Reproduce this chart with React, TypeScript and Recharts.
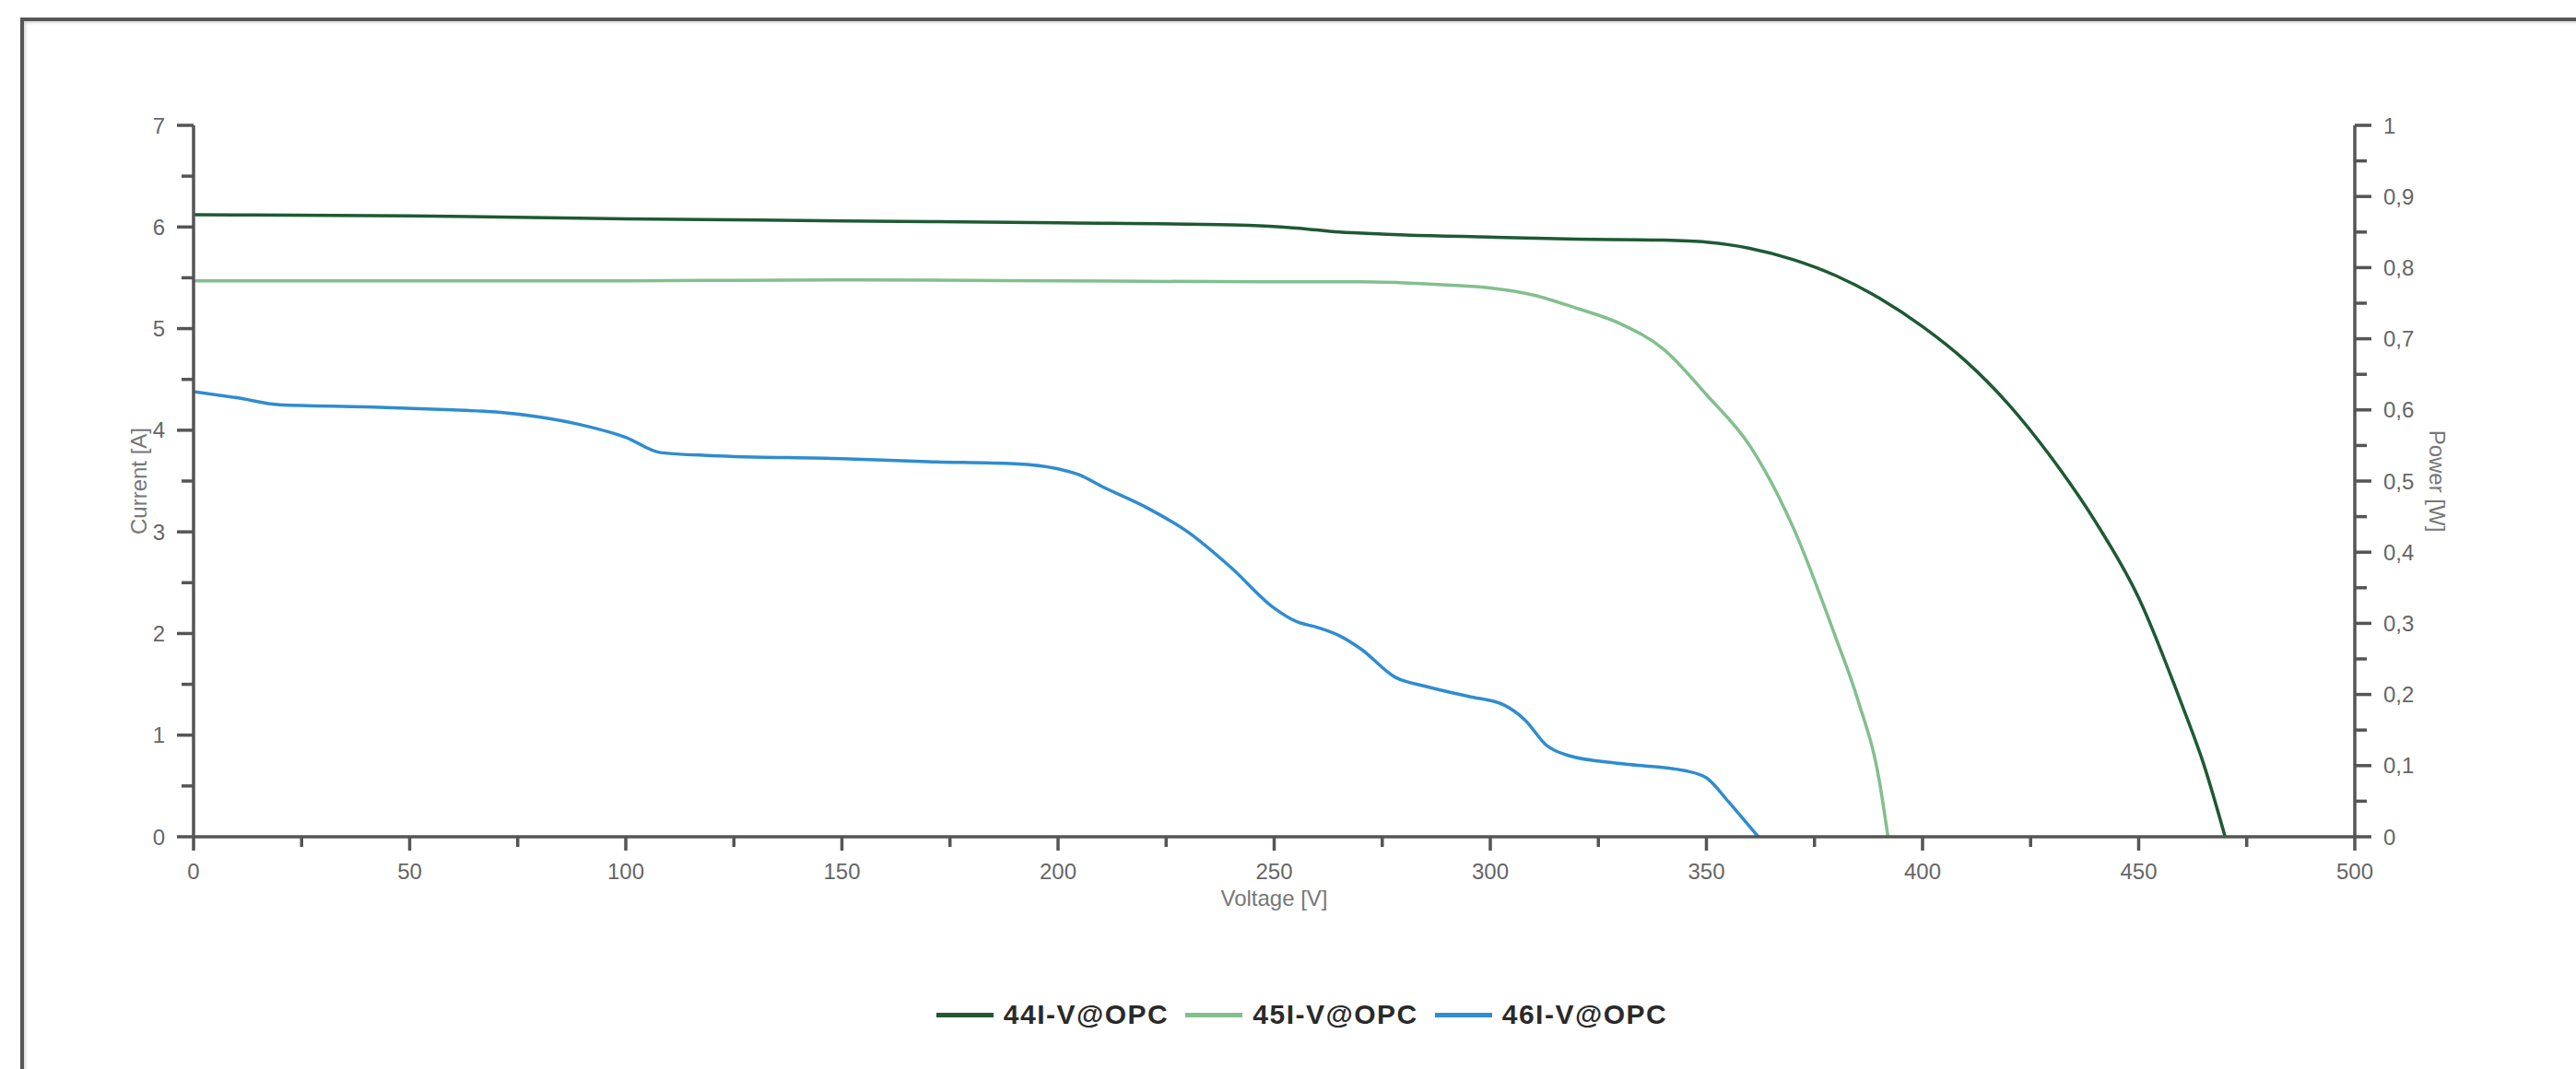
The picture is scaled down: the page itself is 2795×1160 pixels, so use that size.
import React from "react";
import { LineChart, Line, XAxis, YAxis, Legend } from "recharts";

// voltage [V] / current [A] samples
const v44 = [0, 50, 100, 150, 200, 240, 255, 265, 275, 300, 320, 340, 350, 360, 370, 380, 390, 400, 410, 420, 430, 440, 450, 460, 465, 470];
const i44 = [6.12, 6.11, 6.08, 6.06, 6.04, 6.02, 5.99, 5.95, 5.93, 5.9, 5.88, 5.87, 5.85, 5.79, 5.68, 5.52, 5.3, 5.02, 4.68, 4.25, 3.72, 3.1, 2.35, 1.3, 0.72, 0];

const v45 = [0, 50, 100, 150, 200, 250, 270, 280, 290, 300, 310, 320, 330, 340, 350, 360, 370, 380, 385, 390, 392];
const i45 = [5.47, 5.47, 5.47, 5.48, 5.47, 5.46, 5.46, 5.45, 5.43, 5.4, 5.33, 5.2, 5.05, 4.8, 4.35, 3.85, 3.05, 1.95, 1.35, 0.55, 0];

const v46 = [0, 10, 20, 40, 60, 70, 80, 90, 100, 108, 120, 150, 170, 190, 200, 205, 210, 220, 230, 240, 250, 255, 260, 265, 270, 278, 285, 295, 303, 308, 313, 318, 330, 345, 350, 355, 360, 362];
const i46 = [4.38, 4.32, 4.25, 4.23, 4.2, 4.18, 4.13, 4.05, 3.93, 3.78, 3.75, 3.72, 3.69, 3.67, 3.62, 3.56, 3.45, 3.25, 3.0, 2.65, 2.25, 2.12, 2.06, 1.98, 1.85, 1.57, 1.48, 1.38, 1.3, 1.15, 0.9, 0.8, 0.72, 0.65, 0.58, 0.35, 0.1, 0];

const xTicks = [0, 25, 50, 75, 100, 125, 150, 175, 200, 225, 250, 275, 300, 325, 350, 375, 400, 425, 450, 475, 500];
const currentTicks = [0, 0.5, 1, 1.5, 2, 2.5, 3, 3.5, 4, 4.5, 5, 5.5, 6, 6.5, 7];
const powerTicks = [0, 0.05, 0.1, 0.15, 0.2, 0.25, 0.3, 0.35, 0.4, 0.45, 0.5, 0.55, 0.6, 0.65, 0.7, 0.75, 0.8, 0.85, 0.9, 0.95, 1];

const toPoints = (vs: number[], is: number[]) => vs.map((v, k) => ({ v, i: is[k] }));

const series = [
  { name: "44I-V@OPC", color: "#1d5a33", data: toPoints(v44, i44) },
  { name: "45I-V@OPC", color: "#82bf8e", data: toPoints(v45, i45) },
  { name: "46I-V@OPC", color: "#2f8cd0", data: toPoints(v46, i46) },
];

const AXIS = "#555";
const TEXT = "#666";
const FONT = "'Liberation Sans', Arial, sans-serif";

function XTick({ x, y, payload }: any) {
  const major = payload.value % 50 === 0;
  return (
    <g>
      <line x1={x} x2={x} y1={y} y2={y + (major ? 15 : 11)} stroke={AXIS} strokeWidth={3.5} />
      {major && (
        <text x={x} y={y + 37} dy="0.36em" textAnchor="middle" fill={TEXT} fontSize={24} fontFamily={FONT}>
          {payload.value}
        </text>
      )}
    </g>
  );
}

function LeftTick({ x, y, payload }: any) {
  const major = Number.isInteger(payload.value);
  return (
    <g>
      <line x1={x - (major ? 18 : 13)} x2={x} y1={y} y2={y} stroke={AXIS} strokeWidth={3.5} />
      {major && (
        <text x={x - 31} y={y} dy="0.36em" textAnchor="end" fill={TEXT} fontSize={24} fontFamily={FONT}>
          {payload.value}
        </text>
      )}
    </g>
  );
}

function RightTick({ x, y, payload }: any) {
  const major = Math.round(payload.value * 100) % 10 === 0;
  const label = String(Math.round(payload.value * 10) / 10).replace(".", ",");
  return (
    <g>
      <line x1={x} x2={x + (major ? 18 : 13)} y1={y} y2={y} stroke={AXIS} strokeWidth={3.5} />
      {major && (
        <text x={x + 31} y={y} dy="0.36em" textAnchor="start" fill={TEXT} fontSize={24} fontFamily={FONT}>
          {label}
        </text>
      )}
    </g>
  );
}

function LegendRow() {
  return (
    <div
      style={{
        height: 40,
        display: "flex",
        justifyContent: "center",
        alignItems: "center",
        gap: 18,
        fontFamily: FONT,
        fontSize: 30,
        fontWeight: 700,
        letterSpacing: 1.5,
        color: "#2a2a2a",
      }}
    >
      {series.map((s) => (
        <div key={s.name} style={{ display: "flex", alignItems: "center" }}>
          <span style={{ width: 62, height: 5, background: s.color, marginRight: 11, display: "inline-block" }} />
          <span>{s.name}</span>
        </div>
      ))}
    </div>
  );
}

export default function App() {
  return (
    <div style={{ position: "absolute", left: 0, top: 0, width: 2795, height: 1160, background: "#fff", overflow: "hidden" }}>
      <div
        style={{
          position: "absolute",
          left: 22,
          top: 19,
          width: 3000,
          height: 2000,
          borderTop: "4px solid #575757",
          borderLeft: "4px solid #575757",
          boxShadow: "inset 2px 2px 3px rgba(0,0,0,0.15)",
        }}
      />
      <div style={{ position: "absolute", left: 0, top: 0 }}>
        <LineChart width={2795} height={1160} margin={{ top: 136, right: 60, left: 90, bottom: 39 }}>
          <XAxis
            type="number"
            dataKey="v"
            domain={[0, 500]}
            ticks={xTicks}
            interval={0}
            height={173}
            tickSize={0}
            tickMargin={0}
            tickLine={false}
            tick={<XTick />}
            axisLine={{ stroke: AXIS, strokeWidth: 3.5 }}
            allowDataOverflow
            label={{ value: "Voltage [V]", position: "insideTop", offset: 58, fill: "#777", fontSize: 24, fontFamily: FONT }}
          />
          <YAxis
            yAxisId="left"
            type="number"
            domain={[0, 7]}
            ticks={currentTicks}
            interval={0}
            width={120}
            tickSize={0}
            tickMargin={0}
            tickLine={false}
            tick={<LeftTick />}
            axisLine={{ stroke: AXIS, strokeWidth: 3.5 }}
            allowDataOverflow
            label={{ value: "Current [A]", angle: -90, position: "center", fill: "#777", fontSize: 24, fontFamily: FONT }}
          />
          <YAxis
            yAxisId="right"
            orientation="right"
            type="number"
            domain={[0, 1]}
            ticks={powerTicks}
            interval={0}
            width={180}
            tickSize={0}
            tickMargin={0}
            tickLine={false}
            tick={<RightTick />}
            axisLine={{ stroke: AXIS, strokeWidth: 3.5 }}
            allowDataOverflow
            label={{ value: "Power [W]", angle: 90, position: "center", fill: "#777", fontSize: 24, fontFamily: FONT }}
          />
          <Legend verticalAlign="bottom" content={<LegendRow />} />
          {series.map((s) => (
            <Line
              key={s.name}
              yAxisId="left"
              data={s.data}
              dataKey="i"
              name={s.name}
              type="monotone"
              stroke={s.color}
              strokeWidth={3.5}
              dot={false}
              isAnimationActive={false}
            />
          ))}
        </LineChart>
      </div>
    </div>
  );
}
